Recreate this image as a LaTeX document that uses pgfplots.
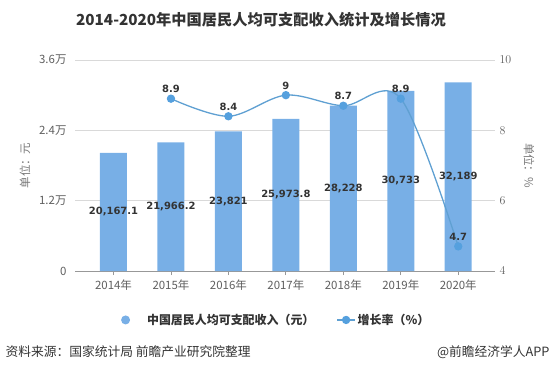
\documentclass[border=0pt]{standalone}
\usepackage{fontspec}
\setmainfont{Noto Sans CJK SC}
\newfontfamily\numfont{DejaVu Sans}
\usepackage{pgfplots}
\pgfplotsset{compat=1.18}
\definecolor{barc}{RGB}{120,175,230}
\definecolor{linec}{RGB}{95,160,210}
\definecolor{markc}{RGB}{85,160,222}
\definecolor{txt}{RGB}{51,51,51}
\definecolor{tickc}{RGB}{95,95,95}
\definecolor{gridc}{RGB}{217,217,217}
\definecolor{labc}{RGB}{120,120,120}
\begin{document}
\begin{tikzpicture}[x=1bp,y=1bp]
\useasboundingbox (0,0) rectangle (555,372);
\node[font=\fontsize{15.3}{18}\selectfont\bfseries, text=txt] at (261,352) {2014-2020年中国居民人均可支配收入统计及增长情况};
\begin{axis}[
  at={(75bp,101bp)}, anchor=south west, scale only axis,
  width=420bp, height=211bp,
  xmin=-0.67, xmax=6.64, ymin=0, ymax=36000,
  xtick={0,1,2,3,4,5,6},
  xticklabels={2014年,2015年,2016年,2017年,2018年,2019年,2020年},
  ytick={0,12000,24000,36000},
  yticklabels={0,1.2万,2.4万,3.6万},
  scaled y ticks=false,
  axis y line*=left, axis x line*=bottom,
  y axis line style={draw=none},
  x axis line style={draw=gridc!70!black, line width=0.8pt, -},
  ymajorgrids, grid style={gridc, line width=0.7pt},
  ytick style={draw=none},
  xtick style={draw=gridc!70!black, line width=0.8pt},
  tick align=outside, major tick length=4bp,
  tick label style={font=\fontsize{11.5}{13}\selectfont, text=tickc},
  yticklabel style={xshift=-1bp},
  xticklabel style={yshift=-1bp},
  ylabel={单位：元},
  every axis y label/.style={at={(rel axis cs:0,0.5)}, xshift=-50bp, rotate=90, anchor=center, font=\fontsize{11.5}{13}\selectfont, text=labc},
  clip=false,
]
\addplot[ybar, bar width=27bp, fill=barc, draw=none] coordinates {
 (0,20167.1) (1,21966.2) (2,23821) (3,25973.8) (4,28228) (5,30733) (6,32189)};
\addplot[draw=none, mark=none, y filter/.expression={y/2},
  point meta=explicit symbolic,
  nodes near coords,
  every node near coord/.style={anchor=center, font=\numfont\fontsize{10}{12}\selectfont\bfseries, text=txt}]
 coordinates {
 (0,20167.1) [20,167.1] (1,21966.2) [21,966.2] (2,23821) [23,821] (3,25973.8) [25,973.8]
 (4,28228) [28,228] (5,30733) [30,733] (6,32189) [32,189]};
\end{axis}
\begin{axis}[
  at={(75bp,101bp)}, anchor=south west, scale only axis,
  width=420bp, height=211bp,
  xmin=-0.67, xmax=6.64, ymin=4, ymax=10,
  ytick={4,6,8,10},
  axis y line*=right, hide x axis,
  y axis line style={draw=none},
  ytick style={draw=none},
  tick label style={font=\fontsize{11.5}{13}\selectfont, text=tickc},
  yticklabel style={xshift=1bp},
  ylabel={单位：\%},
  every axis y label/.style={at={(rel axis cs:1,0.5)}, xshift=34bp, rotate=-90, anchor=center, font=\fontsize{11.5}{13}\selectfont, text=labc},
  clip=false,
  legend style={at={(0.479,-0.232)}, anchor=center, draw=none, fill=none,
    legend columns=2, font=\fontsize{12}{14}\selectfont\bfseries, text=txt,
    /tikz/every even column/.append style={column sep=20bp}},
  legend cell align=left,
  legend image code/.code={\draw[#1] (0bp,0bp) -- (18bp,0bp); \draw[#1, only marks] plot coordinates {(9bp,0bp)};},
]
\addlegendimage{draw=none, only marks, mark=*, mark size=4.5bp, color=barc, legend image code/.code={\path (0bp,0bp) -- (24bp,0bp); \fill[barc] (4.5bp,0bp) circle (4.5bp);}}
\addlegendentry{中国居民人均可支配收入（元）}
\addplot[linec, line width=1.3pt, smooth, tension=0.55, mark=*, mark size=3.5bp,
  mark options={fill=markc, draw=markc},
  point meta=explicit symbolic, nodes near coords,
  every node near coord/.style={anchor=south, yshift=2bp, font=\numfont\fontsize{10}{12}\selectfont\bfseries, text=txt}]
 coordinates {(1,8.9) [8.9] (2,8.4) [8.4] (3,9) [9] (4,8.7) [8.7] (5,8.9) [8.9] (6,4.7) [4.7]};
\addlegendentry{增长率（\%）}
\end{axis}
\node[anchor=west, font=\fontsize{12.8}{15}\selectfont, text=txt] at (2,20) {资料来源：国家统计局 前瞻产业研究院整理};
\node[anchor=east, font=\fontsize{12.8}{15}\selectfont, text=txt] at (553,20) {@前瞻经济学人APP};
\end{tikzpicture}
\end{document}
